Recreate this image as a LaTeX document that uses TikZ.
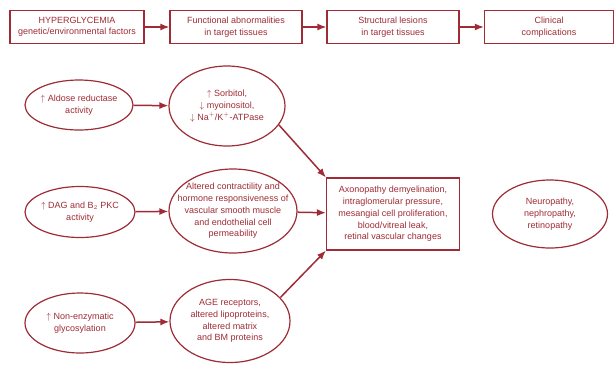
\documentclass[tikz,border=0pt]{standalone}
\usepackage{fontspec}
\setmainfont{Liberation Sans}
\usepackage{xcolor}
\usetikzlibrary{shapes.geometric}
\usetikzlibrary{arrows.meta}
\usetikzlibrary{positioning}
\definecolor{C0}{HTML}{9E2B35}

\begin{document}
\begin{tikzpicture}[x=1pt,y=-1pt,
  txt/.style={text=C0, align=center, font=\fontsize{9}{11.8}\selectfont, inner sep=0pt},
  box/.style={txt, draw=C0, line width=1.2pt, minimum height=33pt},
  ell/.style={ellipse, draw=C0, line width=1.2pt, inner sep=0pt},
  arr/.style={-{Latex[length=9pt,width=7pt]}, C0, line width=1.5pt}]
\useasboundingbox (0,0) rectangle (615,365);
\node[box, minimum width=134pt, font=\fontsize{9}{11.5}\selectfont] (hyper) at (77,27) {HYPERGLYCEMIA\\genetic/environmental factors};
\node[box, minimum width=132pt, font=\fontsize{9}{11.5}\selectfont] (func) at (236,27) {Functional abnormalities\\in target tissues};
\node[box, minimum width=132pt, font=\fontsize{9}{11.5}\selectfont] (struc) at (393,27) {Structural lesions\\in target tissues};
\node[box, minimum width=129pt, font=\fontsize{9}{11.5}\selectfont] (clin) at (549,27) {Clinical\\complications};
\draw[arr] (hyper) -- (func);
\draw[arr] (func) -- (struc);
\draw[arr] (struc) -- (clin);

\node[ell, minimum width=108pt, minimum height=50pt, label={[txt]center:$\uparrow$ Aldose reductase\\activity}] (aldose) at (79,105) {};
\node[ell, minimum width=116pt, minimum height=80pt, label={[txt]center:$\uparrow$ Sorbitol,\\$\downarrow$ myoinositol,\\$\downarrow$ Na$^+$/K$^+$-ATPase}] (sorb) at (227,106) {};
\node[ell, minimum width=110pt, minimum height=51pt, label={[txt]center:$\uparrow$ DAG and B$_2$ PKC\\activity}] (dag) at (80,212) {};
\node[ell, minimum width=128pt, minimum height=84pt, label={[txt]center:Altered contractility and\\hormone responsiveness of\\vascular smooth muscle\\and endothelial cell\\permeability}] (contr) at (233,211) {};
\node[ell, minimum width=110pt, minimum height=60pt, label={[txt]center:$\uparrow$ Non-enzymatic\\glycosylation}] (glyc) at (80,323) {};
\node[ell, minimum width=120pt, minimum height=83pt, label={[txt]center:AGE receptors,\\altered lipoproteins,\\altered matrix\\and BM proteins}] (age) at (230,321) {};
\node[box, minimum width=133pt, minimum height=72pt] (lesion) at (393,214) {Axonopathy demyelination,\\intraglomerular pressure,\\mesangial cell proliferation,\\blood/vitreal leak,\\retinal vascular changes};
\node[ell, minimum width=115pt, minimum height=68pt, label={[txt]center:Neuropathy,\\nephropathy,\\retinopathy}] (neuro) at (550,214) {};

\draw[arr] (aldose) -- (sorb);
\draw[arr] (dag) -- (contr);
\draw[arr] (glyc) -- (age);
\draw[arr] (sorb.-20) -- (lesion.north west);
\draw[arr] (contr) -- (lesion);
\draw[arr] (age.25) -- (lesion.south west);
\end{tikzpicture}
\end{document}
